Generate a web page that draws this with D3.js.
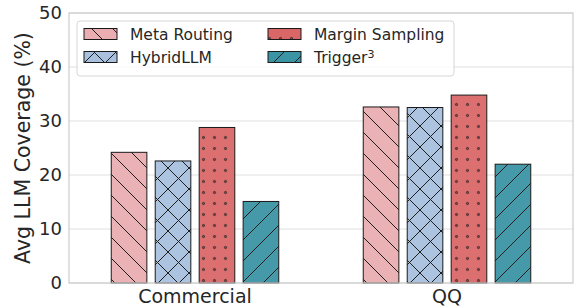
<!DOCTYPE html>
<html>
<head>
<meta charset="utf-8">
<script src="https://cdn.jsdelivr.net/npm/d3@7"></script>
<style>
  body { margin: 0; background: #fff; }
  text { font-family: "DejaVu Sans", sans-serif; fill: #262626; }
</style>
</head>
<body>
<svg id="svg" width="577" height="306"></svg>
<script>
var categories = ["Commercial", "QQ"];
var methods = ["Meta Routing", "HybridLLM", "Margin Sampling", "Trigger"];
var metaRouting = [24.2, 32.6];
var hybridLLM = [22.6, 32.5];
var marginSampling = [28.8, 34.8];
var trigger3 = [15.1, 22.0];
var yTicks = [0, 10, 20, 30, 40, 50];

var colors = ["#eaaeb2", "#a9c1de", "#da6767", "#3b94a3"];
var hatches = ["hBack", "hCross", "hDots", "hFwd"];
var series = [metaRouting, hybridLLM, marginSampling, trigger3];

var svg = d3.select("svg");
var plotLeft = 69, plotRight = 573, plotTop = 13, plotBottom = 283;

// hatch patterns
var defs = svg.append("defs");
var hs = 21;
var p = defs.append("pattern").attr("id", "hBack").attr("patternUnits", "userSpaceOnUse")
    .attr("width", hs).attr("height", hs);
p.append("path").attr("d", "M-2,-2L" + (hs + 2) + "," + (hs + 2) + "M-2," + (hs - 2) + "L2," + (hs + 2) + "M" + (hs - 2) + ",-2L" + (hs + 2) + ",2")
    .attr("stroke", "#1e1e1e").attr("stroke-width", 1);
p = defs.append("pattern").attr("id", "hFwd").attr("patternUnits", "userSpaceOnUse")
    .attr("width", hs).attr("height", hs);
p.append("path").attr("d", "M-2," + (hs + 2) + "L" + (hs + 2) + ",-2M-2,2L2,-2M" + (hs - 2) + "," + (hs + 2) + "L" + (hs + 2) + "," + (hs - 2))
    .attr("stroke", "#1e1e1e").attr("stroke-width", 1);
p = defs.append("pattern").attr("id", "hCross").attr("patternUnits", "userSpaceOnUse")
    .attr("width", hs).attr("height", hs);
p.append("path").attr("d", "M-2,-2L" + (hs + 2) + "," + (hs + 2) + "M-2," + (hs + 2) + "L" + (hs + 2) + ",-2")
    .attr("stroke", "#1e1e1e").attr("stroke-width", 1);
var ds = 11;
p = defs.append("pattern").attr("id", "hDots").attr("patternUnits", "userSpaceOnUse")
    .attr("width", ds).attr("height", ds);
p.append("circle").attr("cx", ds / 2).attr("cy", ds / 2).attr("r", 1.1)
    .attr("fill", "#8a4a4a").attr("stroke", "#222").attr("stroke-width", 0.8);

var x0 = d3.scaleBand().domain(categories).range([plotLeft, plotRight]);
var x1 = d3.scaleBand().domain(methods).range([-83.75, 83.75]).paddingInner(0.19);
var y = d3.scaleLinear().domain([0, 50]).range([plotBottom, plotTop]);

// grid
svg.selectAll(".grid").data(yTicks).enter().append("line")
    .attr("x1", plotLeft).attr("x2", plotRight)
    .attr("y1", function(d) { return y(d); }).attr("y2", function(d) { return y(d); })
    .attr("stroke", "#e0e0e0").attr("stroke-width", 1.2);

// bars
series.forEach(function(vals, si) {
    var g = svg.append("g");
    vals.forEach(function(v, ci) {
        var bx = x0(categories[ci]) + x0.bandwidth() / 2 + x1(methods[si]);
        g.append("rect").attr("x", bx).attr("y", y(v))
            .attr("width", x1.bandwidth()).attr("height", y(0) - y(v))
            .attr("fill", colors[si]).attr("fill-opacity", 0.95);
        g.append("rect").attr("x", bx).attr("y", y(v))
            .attr("width", x1.bandwidth()).attr("height", y(0) - y(v))
            .attr("fill", "url(#" + hatches[si] + ")")
            .attr("stroke", "#1a1a1a").attr("stroke-width", 1);
    });
});

// frame
svg.append("rect").attr("x", plotLeft).attr("y", plotTop).attr("width", plotRight - plotLeft).attr("height", plotBottom - plotTop)
    .attr("fill", "none").attr("stroke", "#cccccc").attr("stroke-width", 1.2);

// y ticks
svg.selectAll(".ytick").data(yTicks).enter().append("text")
    .attr("x", plotLeft - 7).attr("y", function(d) { return y(d); })
    .attr("dy", "0.36em").attr("text-anchor", "end")
    .style("font-size", "18px").text(function(d) { return d; });

// x ticks
svg.selectAll(".xtick").data(categories).enter().append("text")
    .attr("x", function(d) { return x0(d) + x0.bandwidth() / 2; }).attr("y", 303)
    .attr("text-anchor", "middle").style("font-size", "19px").text(function(d) { return d; });

svg.append("text").attr("transform", "translate(30," + ((plotTop + plotBottom) / 2) + ") rotate(-90)")
    .attr("text-anchor", "middle").style("font-size", "20.5px").text("Avg LLM Coverage (%)");

// legend
var lg = svg.append("g");
lg.append("rect").attr("x", 77).attr("y", 21).attr("width", 377).attr("height", 55).attr("rx", 3)
    .attr("fill", "#fff").attr("fill-opacity", 0.8).attr("stroke", "#d6d6d6");
methods.forEach(function(m, i) {
    var lx = i < 2 ? 84 : 268, ly = i % 2 == 0 ? 34 : 57;
    lg.append("rect").attr("x", lx).attr("y", ly - 5.5).attr("width", 33).attr("height", 11)
        .attr("fill", colors[i]);
    lg.append("rect").attr("x", lx).attr("y", ly - 5.5).attr("width", 33).attr("height", 11)
        .attr("fill", "url(#" + hatches[i] + ")").attr("stroke", "#1a1a1a").attr("stroke-width", 1);
    var t = lg.append("text").attr("x", lx + 46).attr("y", ly).attr("dy", "0.36em")
        .style("font-size", "15.5px").text(m);
    if (i == 3) t.append("tspan").attr("dy", "-0.45em").style("font-size", "11px").text("3");
});
</script>
</body>
</html>
